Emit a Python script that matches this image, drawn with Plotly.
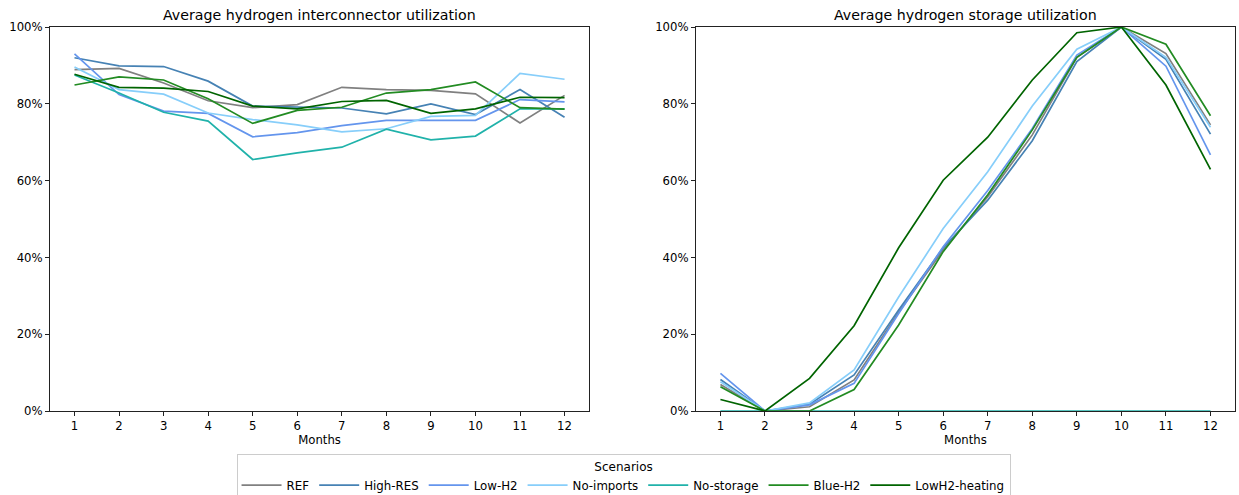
import plotly.graph_objects as go
from plotly.subplots import make_subplots

months = list(range(1, 13))
scenarios = ["REF", "High-RES", "Low-H2", "No-imports", "No-storage", "Blue-H2", "LowH2-heating"]
colors = ["#808080", "#4682B4", "#6495ED", "#87CEFA", "#20B2AA", "#228B22", "#006400"]

# Average hydrogen interconnector utilization (%)
ic_ref = [88.9, 89.2, 85.4, 80.8, 79.0, 79.8, 84.3, 83.7, 83.5, 82.6, 75.0, 82.2]
ic_high_res = [92.0, 89.9, 89.7, 85.9, 79.4, 79.1, 78.9, 77.4, 80.0, 77.2, 83.7, 76.5]
ic_low_h2 = [93.0, 82.4, 78.1, 77.5, 71.4, 72.5, 74.3, 75.7, 75.7, 75.7, 81.1, 80.5]
ic_no_imports = [89.6, 83.7, 82.5, 77.6, 75.9, 74.5, 72.7, 73.5, 76.7, 77.0, 87.9, 86.4]
ic_no_storage = [87.5, 82.8, 77.8, 75.5, 65.5, 67.2, 68.7, 73.4, 70.6, 71.6, 78.7, 78.7]
ic_blue_h2 = [84.9, 87.0, 86.2, 81.3, 74.9, 78.3, 79.1, 82.8, 83.7, 85.7, 79.0, 78.6]
ic_lowh2_heating = [87.7, 84.3, 84.1, 83.2, 79.4, 78.7, 80.6, 80.9, 77.5, 78.7, 81.7, 81.6]

# Average hydrogen storage utilization (%)
st_ref = [6.9, 0, 1.1, 8.1, 25.7, 41.9, 55.8, 71.9, 92.1, 100, 93.1, 74.5]
st_high_res = [8.2, 0, 1.8, 9.4, 26.3, 42.5, 54.9, 70.4, 91.0, 100, 91.6, 72.1]
st_low_h2 = [9.8, 0, 1.6, 7.2, 25.4, 42.8, 57.4, 73.6, 92.7, 100, 89.8, 66.7]
st_no_imports = [7.6, 0, 2.1, 10.7, 29.7, 47.5, 62.3, 79.4, 94.2, 100, 92.1, 73.9]
st_no_storage = [0, 0, 0, 0, 0, 0, 0, 0, 0, 0, 0, 0]
st_blue_h2 = [6.3, 0, 0.0, 5.6, 22.4, 41.5, 56.3, 73.2, 92.1, 100, 95.5, 76.9]
st_lowh2_heating = [3.0, 0, 8.5, 22.2, 42.5, 60.1, 71.3, 86.2, 98.5, 100, 84.9, 62.9]

ic_series = [ic_ref, ic_high_res, ic_low_h2, ic_no_imports, ic_no_storage, ic_blue_h2, ic_lowh2_heating]
st_series = [st_ref, st_high_res, st_low_h2, st_no_imports, st_no_storage, st_blue_h2, st_lowh2_heating]

titles = ["Average hydrogen interconnector utilization", "Average hydrogen storage utilization"]
y_ticks = [0, 20, 40, 60, 80, 100]

FONT = "DejaVu Sans, Arial, sans-serif"
DOM1 = [0.0, 0.4549]
DOM2 = [0.5451, 1.0]

fig = make_subplots(rows=1, cols=2, horizontal_spacing=0.0902)

for name, col, ic, st in zip(scenarios, colors, ic_series, st_series):
    fig.add_trace(go.Scatter(x=months, y=ic, mode="lines", name=name,
                             line=dict(color=col, width=1.7), legendgroup=name,
                             showlegend=True), row=1, col=1)
    fig.add_trace(go.Scatter(x=months, y=st, mode="lines", name=name,
                             line=dict(color=col, width=1.7), legendgroup=name,
                             showlegend=False), row=1, col=2)

axis_common = dict(showline=True, linecolor="#222", linewidth=1, mirror=True,
                   ticks="outside", ticklen=4, tickwidth=1, tickcolor="#222",
                   showgrid=False, zeroline=False, automargin=False,
                   tickfont=dict(family=FONT, size=11.7, color="#000"))

for c in (1, 2):
    fig.update_xaxes(range=[0.45, 12.55], tickvals=months, ticktext=[str(m) for m in months],
                     title=dict(text="Months", font=dict(family=FONT, size=11.7, color="#000"), standoff=3),
                     row=1, col=c, **axis_common)
    fig.update_yaxes(range=[0, 100], tickvals=y_ticks, ticktext=[f"{v}%" for v in y_ticks],
                     row=1, col=c, **axis_common)

fig.update_xaxes(domain=DOM1, row=1, col=1)
fig.update_xaxes(domain=DOM2, row=1, col=2)

for t, dom in zip(titles, [DOM1, DOM2]):
    fig.add_annotation(text=t, x=(dom[0] + dom[1]) / 2, y=1, xref="paper", yref="paper",
                       xanchor="center", yanchor="bottom", yshift=2, showarrow=False,
                       font=dict(family=FONT, size=14.2, color="#000"))

fig.update_layout(
    width=1239, height=495,
    margin=dict(l=50, r=4, t=27, b=84, autoexpand=False),
    paper_bgcolor="white", plot_bgcolor="white",
    font=dict(family=FONT, size=12, color="#000"),
    legend=dict(orientation="h", x=0.484, xanchor="center", y=-0.112, yanchor="top",
                bordercolor="#cccccc", borderwidth=1, bgcolor="white",
                title=dict(text="Scenarios", side="top center", font=dict(family=FONT, size=12)),
                font=dict(family=FONT, size=11.8), itemwidth=40, tracegroupgap=0),
)

fig.write_html("out.html", config={"displayModeBar": False},
               post_script="document.body.style.margin='0';document.body.style.overflow='hidden';")
